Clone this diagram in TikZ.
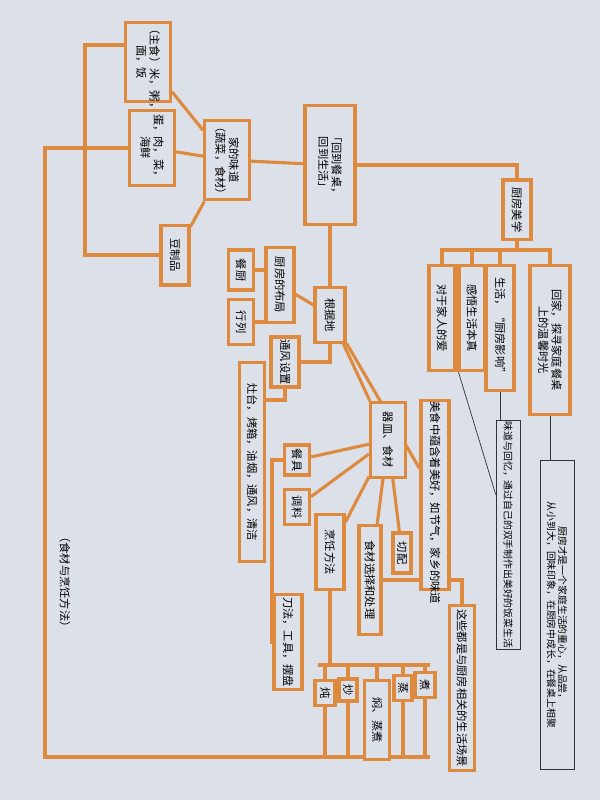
\documentclass[tikz,border=0pt]{standalone}
\usepackage{fontspec}
\newfontfamily\cjk{Noto Sans CJK SC}
\usetikzlibrary{backgrounds}
\definecolor{paper}{HTML}{DCE0E8}
\definecolor{marker}{HTML}{DD8A3E}
\tikzset{
  box/.style={draw=marker, line width=2.2pt, fill=paper, rotate=-90, inner sep=1pt,
    align=center, font=\cjk\footnotesize},
  thinbox/.style={draw=black!80, line width=0.5pt, fill=paper, rotate=-90, inner sep=1pt,
    align=center, font=\cjk\scriptsize},
  link/.style={draw=marker, line width=2.2pt},
  thin/.style={draw=black!80, line width=0.5pt}
}
\newcommand{\bx}[6]{\node[#1, minimum width=#5*0.71pt, minimum height=#4*0.71pt,
  text width=#5*0.71pt-2pt] (#2) at (#3) {#6};}
\begin{document}
\begin{tikzpicture}[x=0.025cm, y=-0.025cm]
  \useasboundingbox (0,0) rectangle (600,800);

  % 中心
  \bx{box}{main}{330,165}{50}{120}{「回到餐桌，\\回到生活」}
  % 厨房美学
  \bx{box}{kit}{517,210}{28}{60}{厨房美学}
  \bx{box}{kA}{550,340}{40}{150}{回家，探寻家庭餐桌\\上的温馨时光}
  \bx{box}{kB}{500,328}{28}{125}{生活，“厨房影响”}
  \bx{box}{kC}{472,318}{26}{105}{感悟生活本真}
  \bx{box}{kD}{442,318}{26}{105}{对于家人的爱}
  \bx{thinbox}{noteA}{508,535}{24}{230}{味道与回忆，通过自己的双手制作出美好的饭菜生活}
  \bx{thinbox}{noteB}{557,615}{34}{310}{厨房才是一个家庭生活的重心，从品尝，\\从小到大，回味印象，在厨房中成长，在餐桌上相聚}

  % 根据地
  \bx{box}{base}{330,315}{30}{55}{根据地}
  \bx{box}{layout}{280,285}{28}{75}{厨房的布局}
  \bx{box}{canchu}{241,270}{25}{40}{餐厨}
  \bx{box}{hanglie}{241,322}{25}{45}{行列}
  \bx{box}{tongfeng}{285,362}{28}{50}{通风设置}
  \bx{box}{zaotai}{252,462}{25}{200}{灶台，烤箱，油烟，通风，清洁}

  % 器皿、食材
  \bx{box}{qimin}{388,440}{35}{75}{器皿、食材}
  \bx{box}{meishi}{435,495}{28}{190}{美食中蕴含着美好，如节气，家乡的味道}
  \bx{box}{canju}{297,460}{25}{30}{餐具}
  \bx{box}{tiaoliao}{297,507}{25}{35}{调料}
  \bx{box}{pengren}{330,552}{28}{75}{烹饪方法}
  \bx{box}{xuanze}{370,580}{22}{110}{食材选择和处理}
  \bx{box}{qiepei}{402,553}{18}{40}{切配}
  \bx{box}{daofa}{288,642}{28}{95}{刀法，工具，摆盘}
  \bx{box}{dun}{325,693}{20}{25}{炖}
  \bx{box}{chao}{348,690}{18}{22}{炒}
  \bx{box}{men}{377,720}{25}{80}{焖、蒸煮}
  \bx{box}{zheng}{403,688}{18}{25}{蒸}
  \bx{box}{zhu}{425,685}{20}{25}{煮}
  \bx{box}{changjing}{462,688}{25}{165}{这些都是与厨房相关的生活场景}

  % 家的味道
  \bx{box}{home}{227,160}{45}{80}{家的味道\\（蔬菜，食材）}
  \bx{box}{staple}{148,62}{45}{80}{（主食）米，粥，\\面，饭}
  \bx{box}{meat}{152,148}{45}{75}{蛋，肉，菜，\\海鲜}
  \bx{box}{douzhi}{175,255}{28}{60}{豆制品}
  \node[rotate=-90, font=\cjk\footnotesize] (loopnote) at (65,582) {（食材与烹饪方法）};

  \coordinate (kbus) at (517,250);
  \coordinate (leftbus) at (85,45);
  \coordinate (cookbus) at (330,665);
  \coordinate (footbus) at (375,757);

  \begin{pgfonlayer}{background}
    \fill[paper] (0,0) rectangle (600,800);
    \path[link] (main) -| (kit);
    \path[link] (kit) -- (kbus) -| (kD);
    \path[link] (kbus) -| (kC);
    \path[link] (kbus) -| (kB);
    \path[link] (kbus) -| (kA);
    \path[thin] (kD) -- (noteA);
    \path[thin] (kB.center) -- (kB.center |- noteA.center);
    \path[thin] (kA.center) -- (kA.center |- noteB.center);

    \path[link] (main) -- (base);
    \path[link] (base) -- (layout);
    \path[link] (canchu) -- (canchu -| layout);
    \path[link] (hanglie) -- (hanglie -| layout);
    \path[link] (base) |- (tongfeng);
    \path[link] (tongfeng.center) -- (285,400) -| (zaotai.center);
    \path[link] (base) -- (qimin);
    \path[link] (base) -- (meishi);

    \path[link] (qimin) -- (canju);
    \path[link] (qimin) -- (tiaoliao);
    \path[link] (qimin) -- (pengren);
    \path[link] (qimin.center) -- (xuanze.center);
    \path[link] (qimin.center) -- (qiepei.center);
    \path[link] (canju.center) -- (272,460) |- (daofa.center);
    \path[link] (xuanze) -| (changjing);
    \path[link] (pengren) -- (cookbus);
    \path[link] (318,665) -- (430,665);
    \foreach \n in {dun,chao,men,zheng,zhu} {
      \path[link] (\n.center |- cookbus) -- (\n.center) -- (\n.center |- footbus);
    }
    \path[link] (318,757) -- (430,757);

    \path[link] (main) -- (home);
    \path[link] (home) -- (staple);
    \path[link] (home) -- (meat);
    \path[link] (home) -- (douzhi);
    \path[link] (staple.center) -- (staple.center |- leftbus) -- (leftbus) |- (douzhi.center);
    \path[link] (meat.center) -- (45,148) |- (footbus) -- (footbus |- men.center);
  \end{pgfonlayer}
\end{tikzpicture}
\end{document}
